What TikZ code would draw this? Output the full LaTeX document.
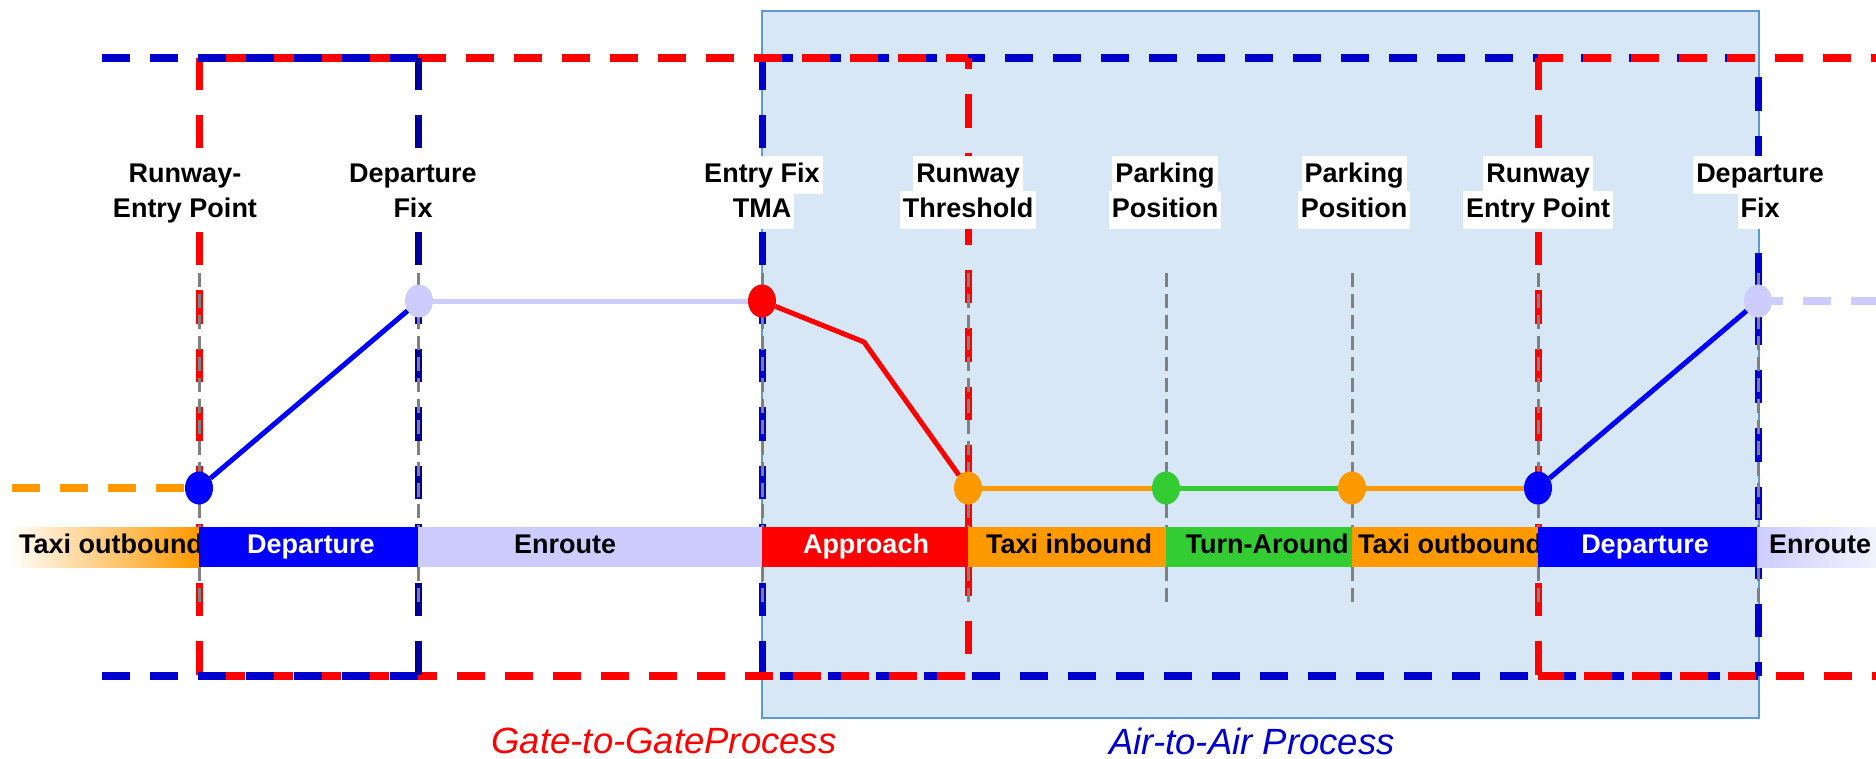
\documentclass[tikz,border=0pt]{standalone}
\usepackage{fontspec}
\setmainfont{Liberation Sans}
\usetikzlibrary{shapes.geometric}
\definecolor{rd}{HTML}{FF0000}
\definecolor{bl}{HTML}{0000CC}
\definecolor{bldk}{HTML}{000099}
\definecolor{dep}{HTML}{0000FF}
\definecolor{lav}{HTML}{CCCCFF}
\definecolor{org}{HTML}{FF9900}
\definecolor{grn}{HTML}{33CC33}
\definecolor{boxfill}{RGB}{216,231,246}
\definecolor{boxedge}{HTML}{5B9BD5}
\definecolor{gry}{HTML}{808080}
\begin{document}
\begin{tikzpicture}[x=1pt,y=-1pt,
 hdash/.style={line width=8pt, dash pattern=on 28pt off 20pt},
 vdash/.style={line width=7pt, dash pattern=on 33.5pt off 25pt},
 gdash/.style={gry, line width=3pt, dash pattern=on 14pt off 7pt},
 lbl/.style={fill=white, font=\bfseries\fontsize{27}{32}\selectfont, inner xsep=3pt, inner ysep=0pt, text height=26pt, text depth=12pt, anchor=base},
 bartxt/.style={font=\bfseries\fontsize{27}{32}\selectfont, inner sep=0pt, anchor=base},
 ptdot/.style={ellipse, minimum width=28pt, minimum height=33pt, inner sep=0pt},
 conn/.style={line width=5pt},
 captxt/.style={font=\itshape\fontsize{36.5}{40}\selectfont, inner sep=0pt, anchor=base}]
\useasboundingbox (0,0) rectangle (1876,758);
\fill[white] (0,0) rectangle (1876,758);
% Air-to-Air background box
\path[fill=boxfill, draw=boxedge, line width=2pt] (762,11) rectangle (1759,718);
% blue rectangle 2
\draw[bl, hdash, dash phase=45pt] (762,58) -- (1758,58);
\draw[bl, hdash, dash phase=30pt] (762,676) -- (1758,676);
\draw[bl, vdash, dash phase=2pt] (762,58) -- (762,676);
\draw[bl, vdash, dash phase=39.5pt] (1758,58) -- (1758,676);
% red rectangle 1
\draw[rd, hdash, dash phase=21pt] (199,58) -- (968,58);
\draw[rd, hdash, dash phase=30pt] (199,676) -- (968,676);
\draw[rd, vdash, dash phase=2pt] (199,58) -- (199,676);
\draw[rd, vdash, dash phase=22.5pt] (968,58) -- (968,676);
% red rectangle 2
\draw[rd, hdash, dash phase=3pt] (1538,58) -- (1876,58);
\draw[rd, hdash, dash phase=2pt] (1538,676) -- (1876,676);
\draw[rd, vdash, dash phase=2pt] (1538,58) -- (1538,676);
% blue rectangle 1
\draw[bl, hdash] (102,58) -- (420,58);
\draw[bl, hdash] (102,676) -- (420,676);
\draw[bldk, vdash, dash phase=2pt] (418,58) -- (418,676);
% gray guide lines
\foreach \gx in {199,418,762,968,1166,1352,1538,1758}
  \draw[gdash] (\gx,273) -- (\gx,606);
% labels
\node[lbl] (a1) at (185,182) {Runway-};
\node[lbl] (a2) at (185,217) {Entry Point};
\node[lbl] (b1) at (413,182) {Departure};
\node[lbl] (b2) at (413,217) {Fix};
\node[lbl] (c1) at (762,182) {Entry Fix};
\node[lbl] (c2) at (762,217) {TMA};
\node[lbl] (t1) at (968,182) {Runway};
\node[lbl] (t2) at (968,217) {Threshold};
\node[lbl] (p1) at (1165,182) {Parking};
\node[lbl] (p2) at (1165,217) {Position};
\node[lbl] (q1) at (1354,182) {Parking};
\node[lbl] (q2) at (1354,217) {Position};
\node[lbl] (r1) at (1538,182) {Runway};
\node[lbl] (r2) at (1538,217) {Entry Point};
\node[lbl] (f1) at (1760,182) {Departure};
\node[lbl] (f2) at (1760,217) {Fix};
% phase bar
\shade[left color=white, right color=org] (8,527) rectangle (199,567);
\node[bartxt] (s1) at (111,553) {Taxi outbound};
\fill[dep] (199,527) rectangle (418,567);
\node[bartxt, text=white] (s2) at (311,553) {Departure};
\fill[lav] (418,527) rectangle (762,567);
\node[bartxt] (s3) at (565,553) {Enroute};
\fill[rd] (762,527) rectangle (968,567);
\node[bartxt, text=white] (s4) at (866,553) {Approach};
\fill[org] (968,527) rectangle (1166,567);
\node[bartxt] (s5) at (1069,553) {Taxi inbound};
\fill[grn] (1166,527) rectangle (1352,567);
\node[bartxt] (s6) at (1267,553) {Turn-Around};
\fill[org] (1352,527) rectangle (1538,567);
\node[bartxt] (s7) at (1450,553) {Taxi outbound};
\fill[dep] (1538,527) rectangle (1757,567);
\node[bartxt, text=white] (s8) at (1645,553) {Departure};
\shade[left color=lav, right color=lav!25] (1757,527) rectangle (1876,567);
\node[bartxt] (s9) at (1820,553) {Enroute};
% event points
\node[ptdot, fill=dep] (d1) at (199,488) {};
\node[ptdot, fill=lav] (l1) at (419,301) {};
\node[ptdot, fill=rd] (e1) at (762,301) {};
\node[ptdot, fill=org] (o1) at (968,488) {};
\node[ptdot, fill=grn] (g1) at (1166,488) {};
\node[ptdot, fill=org] (o2) at (1352,488) {};
\node[ptdot, fill=dep] (d2) at (1538,488) {};
\node[ptdot, fill=lav] (l2) at (1758,301) {};
\coordinate (ol) at (12,488);
\coordinate (rm) at (864,342);
\coordinate (lr) at (1876,301);
% connections
\draw[org, line width=8pt, dash pattern=on 28pt off 20pt] (ol) -- (d1);
\draw[dep, conn] (d1) -- (l1);
\draw[lav, conn] (l1) -- (e1);
\draw[rd, conn] (e1) -- (rm) -- (o1);
\draw[org, conn] (o1) -- (g1);
\draw[grn, conn] (g1) -- (o2);
\draw[org, conn] (o2) -- (d2);
\draw[dep, conn] (d2) -- (l2);
\draw[lav, line width=8pt, dash pattern=on 28pt off 20pt, dash phase=17pt] (l2) -- (lr);
% captions
\node[captxt, text=rd] (gg) at (664,753) {Gate-to-GateProcess};
\node[captxt, text=bl] (aa) at (1252,754) {Air-to-Air Process};
\end{tikzpicture}
\end{document}
